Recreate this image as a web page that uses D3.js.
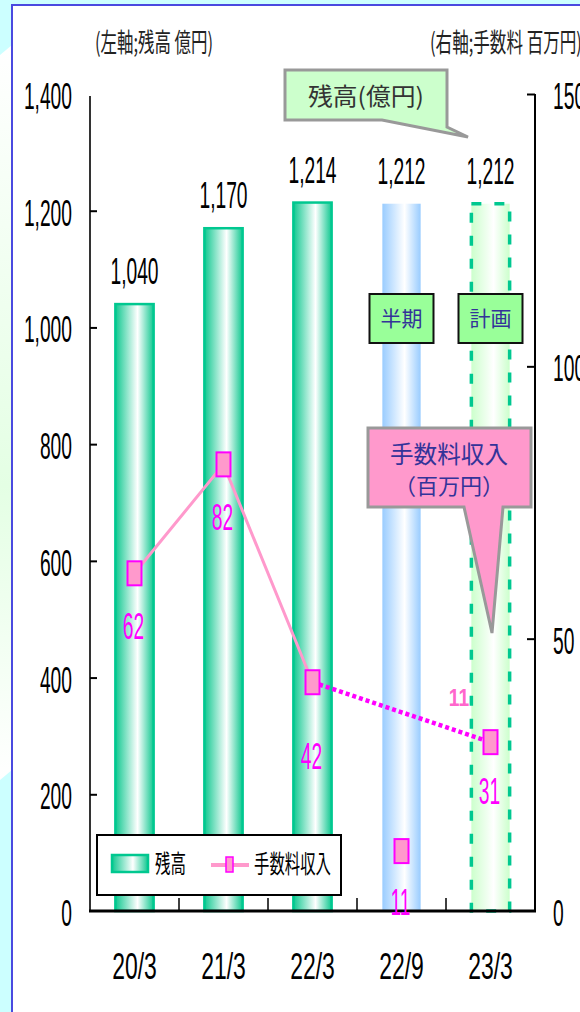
<!DOCTYPE html>
<html>
<head>
<meta charset="utf-8">
<script src="https://cdn.jsdelivr.net/npm/d3@7"></script>
<style>
body{margin:0;background:#ccffff;}
svg{display:block;}
.num{font-family:"Liberation Sans",Arial,sans-serif;}
.jp{font-family:"Noto Sans CJK JP",sans-serif;}
</style>
</head>
<body>
<svg id="chart" width="580" height="1012"></svg>
<script>
// ---- data ----
var categories = ["20/3", "21/3", "22/3", "22/9", "23/3"];
var balance = [1040, 1170, 1214, 1212, 1212];      // 残高 億円 (左軸)
var fees = [62, 82, 42, 11, 31];                    // 手数料収入 百万円 (右軸)
var periodType = ["通期", "通期", "通期", "半期", "計画"];
var leftTicks = [0, 200, 400, 600, 800, 1000, 1200, 1400];
var rightTicks = [0, 50, 100, 150];
var halfNote = "11";

var svg = d3.select("#chart");
var defs = svg.append("defs");

function grad(id, c) {
  var g = defs.append("linearGradient").attr("id", id)
    .attr("x1", "0%").attr("x2", "100%").attr("y1", "0%").attr("y2", "0%");
  g.append("stop").attr("offset", "0%").attr("stop-color", c);
  g.append("stop").attr("offset", "58%").attr("stop-color", "#fff");
  g.append("stop").attr("offset", "100%").attr("stop-color", c);
}
grad("gGreen", "#10c890");
grad("gBlue", "#99ccff");
grad("gPlan", "#ccffcc");

var bgg = defs.append("linearGradient").attr("id", "gBg")
  .attr("x1", "0").attr("x2", "0").attr("y1", "0").attr("y2", "1");
bgg.append("stop").attr("offset", "0%").attr("stop-color", "#ffffff");
bgg.append("stop").attr("offset", "60%").attr("stop-color", "#e4ffe4");
bgg.append("stop").attr("offset", "100%").attr("stop-color", "#ffffff");

// text helper: condensed via horizontal scale, optional fit to width
function label(g, x, y, txt, o) {
  var t = g.append("text")
    .attr("class", o.cls || "num")
    .attr("text-anchor", o.anchor || "middle")
    .attr("dy", "0.35em")
    .style("font-size", o.size + "px")
    .style("font-weight", o.weight || "normal")
    .style("fill", o.fill || "#000")
    .text(txt);
  var sx = o.sx || 1;
  if (o.width) sx = o.width / t.node().getComputedTextLength();
  t.attr("transform", "translate(" + x + "," + y + ") scale(" + sx + ",1)");
  return t;
}

// ---- background ----
svg.append("rect").attr("width", 580).attr("height", 1012).attr("fill", "#ccffff");
svg.append("path").attr("d", "M0,55 L12,45 L12,770 L0,780 Z").attr("fill", "url(#gBg)");
svg.append("rect").attr("x", 12).attr("y", 5).attr("width", 600).attr("height", 1040)
  .attr("fill", "#fff").attr("stroke", "#4a4ae0").attr("stroke-width", 2);

// ---- scales ----
var x = d3.scaleBand().domain(categories).range([90, 535]);
var yL = d3.scaleLinear().domain([0, 1400]).range([911, 94]);
var yR = d3.scaleLinear().domain([0, 150]).range([911, 94]);
var barW = x.step() * 0.43;
function cx(d) { return x(d) + x.bandwidth() / 2; }
var NUM = {size: 37, sx: 0.52};

// ---- bars ----
var bars = svg.append("g");
categories.forEach(function(c, i) {
  var t = periodType[i];
  var r = bars.append("rect")
    .attr("x", cx(c) - barW / 2).attr("width", barW)
    .attr("y", yL(balance[i])).attr("height", yL(0) - yL(balance[i]));
  if (t === "通期") r.attr("fill", "url(#gGreen)").attr("stroke", "#00c890").attr("stroke-width", 2.5);
  else if (t === "半期") r.attr("fill", "url(#gBlue)");
  else r.attr("fill", "url(#gPlan)").attr("stroke", "#00c890").attr("stroke-width", 3.5)
        .attr("stroke-dasharray", "10 13");
  label(svg, cx(c), yL(balance[i]) - 33, d3.format(",")(balance[i]), NUM);
});

// ---- axes ----
var gl = svg.append("g").attr("transform", "translate(90,0)")
  .call(d3.axisLeft(yL).tickValues(leftTicks).tickSize(-7).tickFormat(d3.format(",")));
gl.select(".domain").attr("d", "M0,96V911").attr("stroke", "#333").attr("stroke-width", 2);
gl.selectAll(".tick line").attr("stroke", "#000").attr("stroke-width", 2)
  .filter(function(d) { return d === 0 || d === 1400; }).remove();
gl.selectAll(".tick text").remove();
leftTicks.forEach(function(v) {
  label(svg, 72, yL(v) + 2, d3.format(",")(v), {size: 37, sx: 0.52, anchor: "end"});
});

var gr = svg.append("g").attr("transform", "translate(535,0)")
  .call(d3.axisRight(yR).tickValues(rightTicks).tickSize(-8));
gr.select(".domain").attr("d", "M0,94V911").attr("stroke", "#000").attr("stroke-width", 2);
gr.selectAll(".tick line").attr("stroke", "#000").attr("stroke-width", 2)
  .filter(function(d) { return d === 0; }).remove();
gr.selectAll(".tick text").remove();
rightTicks.forEach(function(v) {
  label(svg, 553, yR(v) + 2, String(v), {size: 37, sx: 0.52, anchor: "start"});
});

// bottom axis with boundary ticks
svg.append("line").attr("x1", 89).attr("x2", 536).attr("y1", 911).attr("y2", 911)
  .attr("stroke", "#000").attr("stroke-width", 3);
categories.slice(1).forEach(function(c) {
  svg.append("line").attr("x1", x(c)).attr("x2", x(c)).attr("y1", 911).attr("y2", 898)
    .attr("stroke", "#000").attr("stroke-width", 1.5);
});
categories.forEach(function(c) {
  label(svg, cx(c), 966, c, {size: 37, sx: 0.62});
});

// axis titles
label(svg, 154, 43, "(左軸;残高 億円)", {size: 26, cls: "jp", width: 118, fill: "#222"});
label(svg, 430, 43, "(右軸;手数料 百万円)", {size: 26, cls: "jp", width: 152, fill: "#222", anchor: "start"});

// ---- callouts ----
svg.append("path").attr("d", "M285,70 L447,70 L447,127 L468,137 L382,120 L285,120 Z")
  .attr("fill", "#ccffcc").attr("stroke", "#999").attr("stroke-width", 3).attr("stroke-linejoin", "miter");
label(svg, 366, 97, "残高(億円)", {size: 24, cls: "jp", width: 116, fill: "#333"});

[["半期", 3], ["計画", 4]].forEach(function(p) {
  var c = cx(categories[p[1]]);
  svg.append("rect").attr("x", c - 32).attr("y", 294).attr("width", 64).attr("height", 49)
    .attr("fill", "#99ff99").attr("stroke", "#111").attr("stroke-width", 2);
  label(svg, c, 319, p[0], {size: 21, cls: "jp", fill: "#333399"});
});

svg.append("path").attr("d", "M368,428 L531,428 L531,507 L503,507 L492,633 L464,507 L368,507 Z")
  .attr("fill", "#ff99cc").attr("stroke", "#999").attr("stroke-width", 3);
label(svg, 449, 455, "手数料収入", {size: 24, cls: "jp", width: 118, fill: "#333399"});
label(svg, 449, 486, "（百万円）", {size: 22, cls: "jp", fill: "#333399"});

// ---- fee line ----
var pts = fees.map(function(v, i) { return [cx(categories[i]), yR(v)]; });
var actual = pts.filter(function(p, i) { return periodType[i] === "通期"; });
var line = d3.line();
svg.append("path").attr("d", line(actual)).attr("fill", "none")
  .attr("stroke", "#ff99cc").attr("stroke-width", 3);
var last = actual[actual.length - 1];
var plan = pts[periodType.indexOf("計画")];
svg.append("path").attr("d", line([last, plan])).attr("fill", "none")
  .attr("stroke", "#ff00ff").attr("stroke-width", 4.5).attr("stroke-dasharray", "4 3");

svg.selectAll(".mk").data(pts).enter().append("rect").attr("class", "mk")
  .attr("x", function(d) { return d[0] - 7; }).attr("y", function(d) { return d[1] - 12; })
  .attr("width", 14).attr("height", 24)
  .attr("fill", "#ff99cc").attr("stroke", "#ff00ff").attr("stroke-width", 2);

var labelDy = [53, 53, 74, 51, 49];
pts.forEach(function(p, i) {
  label(svg, p[0] - 1, p[1] + labelDy[i], String(fees[i]), {size: 37, sx: 0.52, fill: "#ff00ff"});
});
label(svg, 459, 698, halfNote, {size: 24, fill: "#ff66cc", weight: "bold", sx: 0.8});

// ---- legend ----
var lg = svg.append("g");
lg.append("rect").attr("x", 97).attr("y", 835).attr("width", 244).attr("height", 60)
  .attr("fill", "#fff").attr("stroke", "#000").attr("stroke-width", 2);
lg.append("rect").attr("x", 112).attr("y", 855).attr("width", 36).attr("height", 17)
  .attr("fill", "url(#gGreen)").attr("stroke", "#00c890").attr("stroke-width", 2.5);
label(lg, 155, 864, "残高", {size: 25, cls: "jp", width: 31, anchor: "start"});
lg.append("line").attr("x1", 211).attr("x2", 249).attr("y1", 865).attr("y2", 865)
  .attr("stroke", "#ff99cc").attr("stroke-width", 4);
lg.append("rect").attr("x", 226).attr("y", 857).attr("width", 7).attr("height", 15)
  .attr("fill", "#ff99cc").attr("stroke", "#ff00ff").attr("stroke-width", 1.5);
label(lg, 254, 864, "手数料収入", {size: 25, cls: "jp", width: 77, anchor: "start"});
</script>
</body>
</html>
